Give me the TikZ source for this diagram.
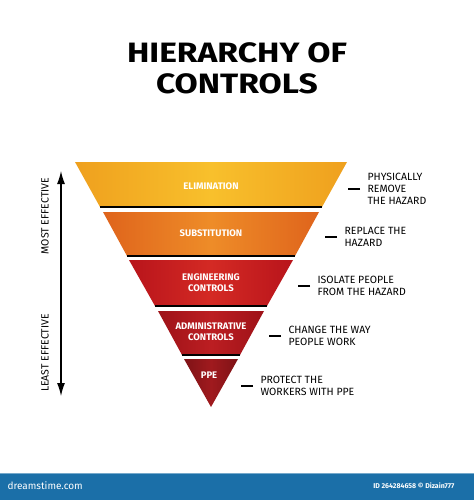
\documentclass[tikz,border=0pt]{standalone}
\usepackage{fontspec}
\usetikzlibrary{arrows.meta}
\newfontfamily\handfont{Fira Sans}
\definecolor{elimA}{HTML}{EFA01E}
\definecolor{elimB}{HTML}{F8C02C}
\definecolor{subsA}{HTML}{DF641C}
\definecolor{subsB}{HTML}{EE8C28}
\definecolor{engA}{HTML}{B8141B}
\definecolor{engB}{HTML}{D42A24}
\definecolor{admA}{HTML}{9E1218}
\definecolor{admB}{HTML}{BC1E22}
\definecolor{ppeA}{HTML}{7E1216}
\definecolor{ppeB}{HTML}{A01A1E}
\definecolor{barblue}{HTML}{1B6FA8}

\begin{document}
\begin{tikzpicture}[x=1pt,y=-1pt,
    level/.style={white,font=\handfont\bfseries\fontsize{9.5}{11}\selectfont,align=center},
    desc/.style={anchor=west,font=\handfont\fontsize{10.5}{12.2}\selectfont,align=left},
    side/.style={rotate=90,font=\handfont\fontsize{10.5}{12}\selectfont},
    edge/.style={black,line width=1.8pt},
    tick/.style={black,line width=1.8pt}]
        \useasboundingbox (0,0) rectangle (474,500);
        \fill[white] (0,0) rectangle (474,500);
        % title
        \node[font=\handfont\bfseries\fontsize{28}{31}\selectfont,align=center,xscale=1.2] (title) at (237,68) {HIERARCHY OF\\CONTROLS};
        % pyramid
        \shade[left color=elimA,right color=elimA,middle color=elimB] (75,162) -- (347,162) -- (322,207) -- (100,207) -- cycle;
        \draw[edge] (100,207) -- (322,207);
        \shade[left color=subsA,right color=subsA,middle color=subsB] (103,212) -- (319,212) -- (295,256) -- (127,256) -- cycle;
        \draw[edge] (127,256) -- (295,256);
        \shade[left color=engA,right color=engA,middle color=engB] (129,260) -- (293,260) -- (267,306) -- (155,306) -- cycle;
        \draw[edge] (155,306) -- (267,306);
        \shade[left color=admA,right color=admA,middle color=admB] (158,311) -- (264,311) -- (240,355) -- (182,355) -- cycle;
        \draw[edge] (182,355) -- (240,355);
        \shade[left color=ppeA,right color=ppeA,middle color=ppeB] (184,359) -- (238,359) -- (211,407) -- cycle;
        \node[level] (elim) at (211,186) {ELIMINATION};
        \node[level] (subst) at (211,233) {SUBSTITUTION};
        \node[level] (eng) at (211,283) {ENGINEERING\\CONTROLS};
        \node[level] (admin) at (211,332) {ADMINISTRATIVE\\CONTROLS};
        \node[level] (ppe) at (209,375) {PPE};
        % descriptions
        \node[desc] (remove) at (364,189) {PHYSICALLY\\REMOVE\\THE HAZARD};
        \node[desc] (replace) at (341,237) {REPLACE THE\\HAZARD};
        \node[desc] (isolate) at (314,286) {ISOLATE PEOPLE\\FROM THE HAZARD};
        \node[desc] (change) at (285,336) {CHANGE THE WAY\\PEOPLE WORK};
        \node[desc] (protect) at (257,386) {PROTECT THE\\WORKERS WITH PPE};
        \draw[tick] ([xshift=-4pt]remove.west) -- ++(-12,0);
        \draw[tick] ([xshift=-4pt]replace.west) -- ++(-12,0);
        \draw[tick] ([xshift=-4pt]isolate.west) -- ++(-12,0);
        \draw[tick] ([xshift=-4pt]change.west) -- ++(-12,0);
        \draw[tick] ([xshift=-4pt]protect.west) -- ++(-12,0);
        % effectiveness arrow
        \coordinate (top) at (61,171);
        \coordinate (bot) at (61,396);
        \draw[line width=1.2pt,{Latex[length=13pt,width=8pt]}-{Latex[length=13pt,width=8pt]}] (top) -- (bot);
        \node[side] (most) at (45,216) {MOST EFFECTIVE};
        \node[side] (least) at (45,353) {LEAST EFFECTIVE};
        % footer
        \fill[barblue] (0,473) rectangle (474,500);
        \draw[barblue!60!white,line width=1pt] (0,473) -- (474,473);
        \node[white,anchor=west,font=\handfont\fontsize{10}{11}\selectfont] (site) at (4,486) {dreamstime.com};
        \node[white,anchor=east,font=\handfont\bfseries\fontsize{7}{8}\selectfont] (id) at (458,486) {ID 264284658 \textcopyright{} Dizain777};
    \end{tikzpicture}
\end{document}
